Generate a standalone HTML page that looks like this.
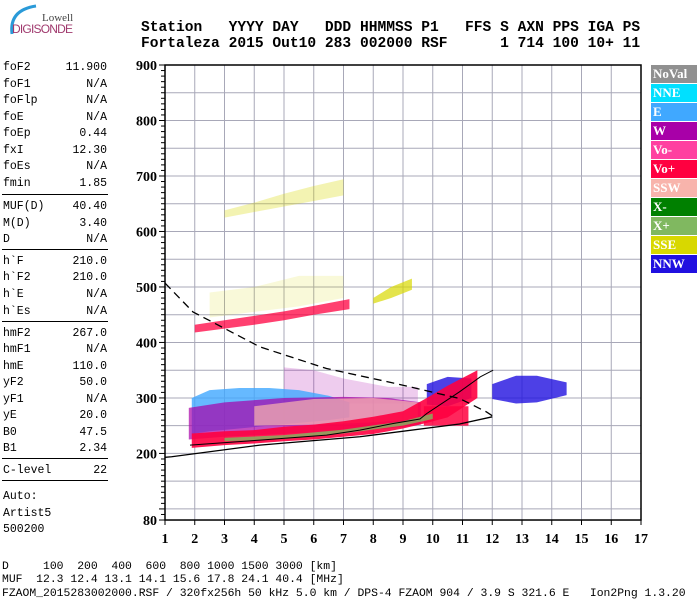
<!DOCTYPE html>
<html><head><meta charset="utf-8">
<style>
body{margin:0;width:700px;height:600px;background:#fff;overflow:hidden;position:relative;font-family:"Liberation Mono",monospace}
.hdr{position:absolute;left:141px;font:bold 14.6px "Liberation Mono",monospace;white-space:pre;color:#000}
.lp{position:absolute;left:3px;width:104px;font-size:11.5px;color:#000}
.lp div{position:absolute;left:0;width:104px;height:16px;white-space:pre}
.lp span{position:absolute;right:0}
.sep{position:absolute;left:2px;width:106px;height:0;border-top:1.5px solid #000}
.bt{position:absolute;left:2px;font-size:11.4px;white-space:pre;color:#000}
.leg{position:absolute;left:651px;width:46px;height:18px;font:bold 13px "Liberation Serif",serif;color:#fff;line-height:18px;padding-left:2px;box-sizing:border-box}
</style></head><body>
<svg style="position:absolute;left:0;top:0" width="90" height="40">
<path d="M12 34 Q9 10 36 6" stroke="#2a9ad8" stroke-width="3" fill="none"/>
<text x="42" y="21" font-family="Liberation Serif,serif" font-size="11" fill="#444">Lowell</text>
<text x="12" y="33" font-family="Liberation Sans,sans-serif" font-size="12" textLength="61" fill="#a03a6e">DIGISONDE</text>
</svg>
<div class="hdr" style="top:20px">Station   YYYY DAY   DDD HHMMSS P1   FFS S AXN PPS IGA PS</div>
<div class="hdr" style="top:36px">Fortaleza 2015 Out10 283 002000 RSF      1 714 100 10+ 11</div>

<div class="lp" id="lp"></div>

<svg id="chart" style="position:absolute;left:0;top:0" width="700" height="560"></svg>

<div id="legend"></div>

<div class="bt" style="top:561px">D     100  200  400  600  800 1000 1500 3000 [km]</div>
<div class="bt" style="top:574px">MUF  12.3 12.4 13.1 14.1 15.6 17.8 24.1 40.4 [MHz]</div>
<div class="bt" style="top:588px">FZAOM_2015283002000.RSF / 320fx256h 50 kHz 5.0 km / DPS-4 FZAOM 904 / 3.9 S 321.6 E   Ion2Png 1.3.20</div>

<script>
// ---- parameter panel ----
const params=[["foF2","11.900",68],["foF1","N/A",85],["foFlp","N/A",101],["foE","N/A",118],["foEp","0.44",134],["fxI","12.30",151],["foEs","N/A",167],["fmin","1.85",184],
["MUF(D)","40.40",207],["M(D)","3.40",224],["D","N/A",240],
["h`F","210.0",262],["h`F2","210.0",278],["h`E","N/A",295],["h`Es","N/A",312],
["hmF2","267.0",334],["hmF1","N/A",350],["hmE","110.0",367],["yF2","50.0",383],["yF1","N/A",400],["yE","20.0",416],["B0","47.5",433],["B1","2.34",449],
["C-level","22",471],["Auto:","",497],["Artist5","",514],["500200","",530]];
const seps=[194,249,321,458,480];
const lp=document.getElementById('lp');
params.forEach(p=>{const d=document.createElement('div');d.style.top=(p[2]-68)+'px';d.textContent=p[0];


if(p[1]){const s=document.createElement('span');s.textContent=p[1];d.appendChild(s);}lp.appendChild(d);});
lp.style.top='61px';
seps.forEach(y=>{const s=document.createElement('div');s.className='sep';s.style.top=y+'px';


document.body.appendChild(s);});

// ---- legend ----
const legNames=["NoVal","NNE","E","W","Vo-","Vo+","SSW","X-","X+","SSE","NNW"];
const legColors=["#909090","#00e0ff","#40a8ff","#a800a8","#ff40a0","#ff0040","#f8b4ac","#008000","#80b860","#d8d800","#2010e0"];
legNames.forEach((n,i)=>{const d=document.createElement('div');d.className='leg';d.style.top=(65+i*19)+'px';d.style.background=legColors[i];d.textContent=n;


document.getElementById('legend').appendChild(d);});

// ---- chart data ----
const xTicks=[1,2,3,4,5,6,7,8,9,10,11,12,13,14,15,16,17];
const yTicks=[80,200,300,400,500,600,700,800,900];
const eFreq=[1.9,2.5,3.5,4.5,5.5,6.5,7.2];
const eLow=[235,240,245,250,255,260,265];
const eHigh=[300,314,318,318,314,304,292];
const wFreq=[1.8,3,5,7,8.5,9.6];
const wLow=[225,230,235,240,245,252];
const wHigh=[282,292,300,302,300,292];
const spreadFreq=[5,6,7,8.5,9.5];
const spreadLow=[290,290,290,290,290];
const spreadHigh=[355,350,335,320,320];
const sswFreq=[4,6,8,9.5];
const sswLow=[250,252,256,262];
const sswHigh=[285,298,300,292];
const redFreq=[1.9,3,4,5,6,7,8,9,9.8,10.5,11.5];
const redLow=[210,215,218,222,225,230,235,245,255,265,300];
const redHigh=[236,240,242,248,252,258,266,276,300,322,350];
const redNoseFreq=[9.7,11.2];
const redNoseLow=[250,250];
const redNoseHigh=[285,285];
const xpFreq=[3,5,7,9,10];
const xpLow=[222,226,236,250,262];
const xpHigh=[228,233,243,258,272];
const nnwAFreq=[9.8,10.5,11.3];
const nnwALow=[288,285,300];
const nnwAHigh=[325,338,335];
const nnwBFreq=[12,12.8,13.5,14.5];
const nnwBLow=[298,290,292,305];
const nnwBHigh=[325,340,340,328];
const hop2Freq=[2,3,4,5,6,7.2];
const hop2Low=[418,425,432,440,450,460];
const hop2High=[432,440,448,456,466,478];
const hop2sFreq=[2.5,4,5.5,7];
const hop2sLow=[445,455,465,480];
const hop2sHigh=[490,500,520,520];
const sseFreq=[8,8.6,9.3];
const sseLow=[470,480,495];
const sseHigh=[480,500,515];
const hop3Freq=[3,4,5,6,7];
const hop3Low=[625,635,645,655,665];
const hop3High=[638,652,668,682,694];
const profFreq=[1.0,1.22,4.19,7.55,10.9,12.0];
const profH=[193,194,215,230,253,266];
const dashFreq=[1.0,1.94,4.19,6.43,8.67,10.9,11.8,12.0];
const dashH=[507,455,392,353,327,299,275,268];
const traceFreq=[1.84,4.19,6.43,7.55,8.67,9.57,9.8,10.9,11.6,12.03];
const traceH=[215,224,233,242,254,262,272,311,338,350];

const X0=165,XS=29.75,Y0=65,YS=0.5549;
const xs=f=>X0+(f-1)*XS;
const ys=h=>Y0+(900-h)*YS;
const svg=document.getElementById('chart');
const NS='http://www.w3.org/2000/svg';
function mk(t,a,name){const e=document.createElementNS(NS,t);for(const k in a)e.setAttribute(k,a[k]);


svg.appendChild(e);return e;}

for(let h=100;h<900;h+=50){mk('line',{x1:xs(1),x2:xs(17),y1:ys(h),y2:ys(h),stroke:'#a8a8b8','stroke-width':1},'h-gridline');}
xTicks.slice(1,-1).forEach(f=>mk('line',{x1:xs(f),x2:xs(f),y1:ys(900),y2:ys(80),stroke:'#a8a8b8','stroke-width':1},'v-gridline'));

function band(F,L,H,col,op,name){
  let pts=F.map((f,i)=>xs(f)+','+ys(L[i]));
  for(let i=F.length-1;i>=0;i--)pts.push(xs(F[i])+','+ys(H[i]));
  mk('polygon',{points:pts.join(' '),fill:col,opacity:op},name);
}
band(hop3Freq,hop3Low,hop3High,'#d8d800',0.3,'echo-third-hop');
band(hop2sFreq,hop2sLow,hop2sHigh,'#d8d800',0.15,'echo-second-hop-spread');
band(hop2Freq,hop2Low,hop2High,'#ff0040',0.75,'echo-second-hop');
band(sseFreq,sseLow,sseHigh,'#d8d800',0.7,'echo-sse');
band(spreadFreq,spreadLow,spreadHigh,'#a800a8',0.2,'echo-spread-f');
band(eFreq,eLow,eHigh,'#40a8ff',0.8,'echo-e');
band(wFreq,wLow,wHigh,'#a800a8',0.7,'echo-w');
band(sswFreq,sswLow,sswHigh,'#f8b4ac',0.7,'echo-ssw');
band(redNoseFreq,redNoseLow,redNoseHigh,'#ff0040',0.85,'echo-vo-plus-nose');
band(nnwAFreq,nnwALow,nnwAHigh,'#2010e0',0.8,'echo-nnw-a');
band(redFreq,redLow,redHigh,'#ff0040',0.9,'echo-vo-plus');
band(xpFreq,xpLow,xpHigh,'#80b860',0.8,'echo-x-plus');
band(nnwBFreq,nnwBLow,nnwBHigh,'#2010e0',0.8,'echo-nnw-b');

function line(F,H,extra,name){mk('polyline',Object.assign({points:F.map((f,i)=>xs(f)+','+ys(H[i])).join(' '),fill:'none',stroke:'#000','stroke-width':1.3},extra),name);}
line(profFreq,profH,{},'profile-curve');
line(dashFreq,dashH,{'stroke-dasharray':'8,5'},'dashed-curve');
line(traceFreq,traceH,{'stroke-width':1},'trace-line');

mk('rect',{x:xs(1),y:ys(900),width:xs(17)-xs(1),height:ys(80)-ys(900),fill:'none',stroke:'#000','stroke-width':1.5},'plot-frame');
for(let h=80;h<=900;h+=10){mk('line',{x1:xs(1)-(h%100===0||h===80?6:4),x2:xs(1),y1:ys(h),y2:ys(h),stroke:'#000'},'y-tick');}
xTicks.forEach(f=>mk('line',{x1:xs(f),x2:xs(f),y1:ys(80),y2:ys(80)+5,stroke:'#000'},'x-tick'));
yTicks.forEach(h=>{const t=mk('text',{x:xs(1)-8,y:ys(h)+5,'text-anchor':'end','font-family':'Liberation Serif,serif','font-weight':'bold','font-size':14},'y-tick-label');t.textContent=h;});
xTicks.forEach(f=>{const t=mk('text',{x:xs(f),y:ys(80)+23,'text-anchor':'middle','font-family':'Liberation Serif,serif','font-weight':'bold','font-size':14},'x-tick-label');t.textContent=f;});
</script>
</body></html>
